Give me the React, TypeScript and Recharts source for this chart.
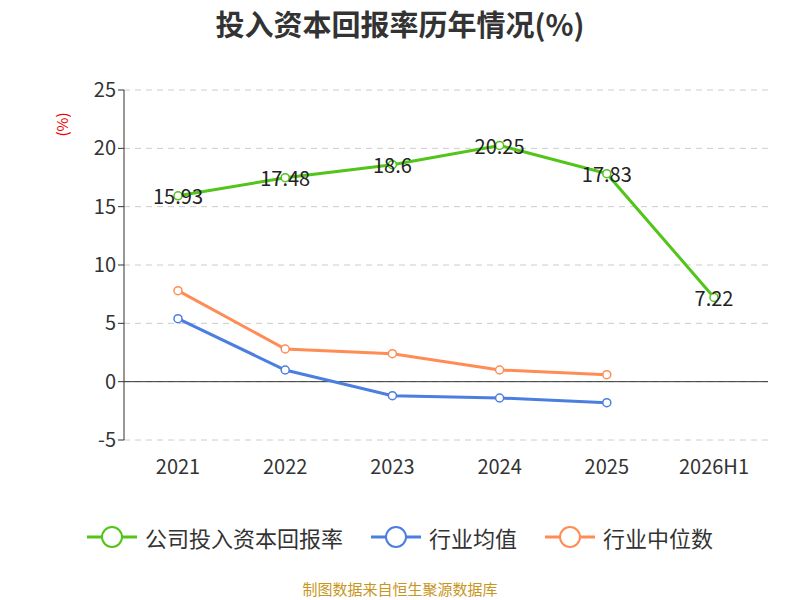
import React from 'react';
import { LineChart, Line, XAxis, YAxis, CartesianGrid, ReferenceLine, LabelList } from 'recharts';

const years = ['2021', '2022', '2023', '2024', '2025', '2026H1'];
const company = [15.93, 17.48, 18.6, 20.25, 17.83, 7.22];
const industryAvg = [5.4, 1.0, -1.2, -1.4, -1.8, null];
const industryMedian = [7.8, 2.8, 2.4, 1.0, 0.6, null];
const yTicks = [-5, 0, 5, 10, 15, 20, 25];

const data = years.map((y, i) => ({ year: y, company: company[i], avg: industryAvg[i], median: industryMedian[i] }));

const series = [
  { key: 'company', name: '公司投入资本回报率', color: '#52c41a' },
  { key: 'avg', name: '行业均值', color: '#4a7ee0' },
  { key: 'median', name: '行业中位数', color: '#ff8c55' },
];

const font = '"Noto Sans CJK SC", "Noto Sans", sans-serif';

const Lbl = (p: any) => (
  <text x={p.x} y={p.y} textAnchor="middle" dominantBaseline="central" fontSize={20} fill="#222" fontFamily={font}>{p.value}</text>
);

export default function App() {
  return (
    <div style={{ position: 'absolute', left: 0, top: 0, width: 800, height: 600, background: '#fff', fontFamily: font }}>
      <div style={{ position: 'absolute', top: 2, width: 800, textAlign: 'center', fontSize: 29, fontWeight: 'bold', color: '#333' }}>投入资本回报率历年情况(%)</div>
      <div style={{ position: 'absolute', left: 50, top: 114, transform: 'rotate(-90deg)', color: '#e00', fontSize: 15 }}>(%)</div>
      <LineChart width={800} height={600} data={data} margin={{ top: 90, right: 32, bottom: 130, left: 64 }}>
        <CartesianGrid horizontal vertical={false} stroke="#ccc" strokeDasharray="6 5" />
        <XAxis dataKey="year" axisLine={false} tickLine={false} height={30} padding={{ left: 54, right: 54 }} tick={{ fontSize: 20, fill: '#333', fontFamily: font }} dy={12} interval={0} />
        <YAxis domain={[-5, 25]} ticks={yTicks} width={60} axisLine={{ stroke: '#333' }} tickLine={{ stroke: '#333' }} tick={{ fontSize: 20, fill: '#333', fontFamily: font }} interval={0} />
        <ReferenceLine y={0} stroke="#333" />
        {series.map(s => (
          <Line key={s.key} dataKey={s.key} stroke={s.color} strokeWidth={3} isAnimationActive={false}
            dot={{ r: 4, fill: '#fff', stroke: s.color, strokeWidth: 1.5 }} connectNulls={false}>
            {s.key === 'company' && <LabelList dataKey="company" content={Lbl} />}
          </Line>
        ))}
      </LineChart>
      <div style={{ position: 'absolute', top: 521, width: 800, display: 'flex', justifyContent: 'center', gap: 28, fontSize: 22, color: '#333' }}>
        {series.map(s => (
          <div key={s.key} style={{ display: 'flex', alignItems: 'center', gap: 8 }}>
            <svg width={50} height={26}><line x1={0} y1={13} x2={50} y2={13} stroke={s.color} strokeWidth={3} /><circle cx={25} cy={13} r={10} fill="#fff" stroke={s.color} strokeWidth={2} /></svg>
            <span>{s.name}</span>
          </div>
        ))}
      </div>
      <div style={{ position: 'absolute', top: 578, width: 800, textAlign: 'center', fontSize: 15, color: '#c8961e' }}>制图数据来自恒生聚源数据库</div>
    </div>
  );
}
